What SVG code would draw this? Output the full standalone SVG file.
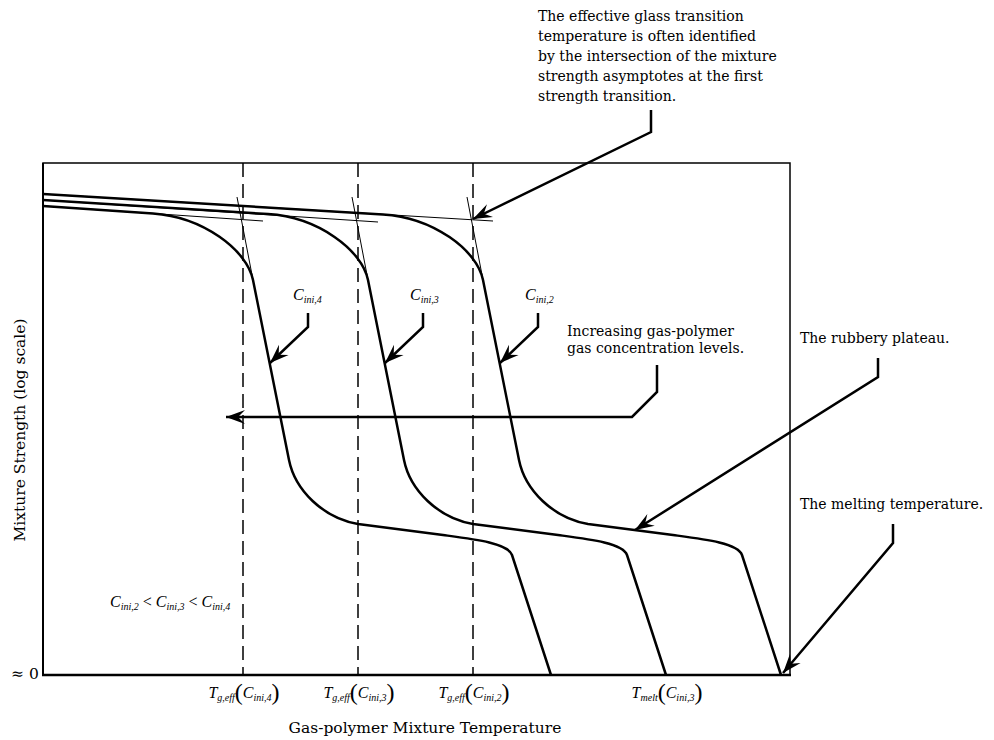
<svg xmlns="http://www.w3.org/2000/svg" width="994" height="740" viewBox="0 0 994 740">
<style>
.t{font-family:"DejaVu Serif","Liberation Serif",serif;font-size:14px;fill:#000}
.ax{font-family:"DejaVu Serif","Liberation Serif",serif;font-size:15.5px;fill:#000}
.m{font-family:"Liberation Serif","DejaVu Serif",serif;font-style:italic;font-size:16px;fill:#000}
.s{font-size:10px}
.p{font-style:normal;font-size:24px}
.curve{fill:none;stroke:#000;stroke-width:2.5;stroke-linejoin:round}
.thin{fill:none;stroke:#000;stroke-width:1}
.dash{fill:none;stroke:#000;stroke-width:1.5;stroke-dasharray:14 7}
.conn{fill:none;stroke:#000;stroke-width:2.5;marker-end:url(#ah)}
</style>
<defs>
<marker id="ah" markerUnits="userSpaceOnUse" markerWidth="20" markerHeight="16" viewBox="0 0 20 16" refX="19" refY="8" orient="auto">
<path d="M19,8 L0,1 L7,8 L0,15 Z" fill="#000"/>
</marker>
</defs>
<rect width="994" height="740" fill="#fff"/>
<g id="frame">
<rect x="43" y="163" width="747" height="512" fill="none" stroke="#000" stroke-width="1.5"/>
<line x1="43" y1="163" x2="43" y2="676" stroke="#000" stroke-width="2"/>
<line x1="42" y1="675" x2="791" y2="675" stroke="#000" stroke-width="2.5"/>
</g>
<g id="dashed">
<line class="dash" x1="243" y1="163" x2="243" y2="675"/>
<line class="dash" x1="358" y1="163" x2="358" y2="675"/>
<line class="dash" x1="473" y1="163" x2="473" y2="675"/>
</g>
<g id="asymptotes">
<line class="thin" x1="43" y1="206" x2="263" y2="221"/>
<line class="thin" x1="237" y1="197" x2="253" y2="280"/>
<line class="thin" x1="43" y1="200" x2="378" y2="222"/>
<line class="thin" x1="352" y1="197" x2="368" y2="280"/>
<line class="thin" x1="43" y1="194" x2="493" y2="221"/>
<line class="thin" x1="467" y1="197" x2="483" y2="280"/>
</g>
<g id="curve-cini4">
<path class="curve" d="M43,206 L153,213.5 C203,217 247,250 253,280 L289,460 C295,490 323,518 358,524 L443,535 C473,539 508,543 512,555 L551,675"/>
</g>
<g id="curve-cini3">
<path class="curve" d="M43,200 L268,214.1 C318,217.2 362,250 368,280 L404,460 C410,490 438,518 473,524 L558,535 C588,539 623,543 627,555 L666,675"/>
</g>
<g id="curve-cini2">
<path class="curve" d="M43,194 L383,214.4 C433,217.4 477,250 483,280 L519,460 C525,490 553,518 588,524 L673,535 C703,539 738,543 742,555 L781,675"/>
</g>
<g id="connectors">
<polyline class="conn" points="651,110 651,132 473,219"/>
<polyline class="conn" points="308,313 308,327 270,363"/>
<polyline class="conn" points="423,313 423,327 385,363"/>
<polyline class="conn" points="538,313 538,327 500,363"/>
<polyline class="conn" points="657,365 657,392 632,417 226,417"/>
<polyline class="conn" points="878,358 878,377 635,530"/>
<polyline class="conn" points="893,524 893,543 783,673"/>
</g>
<g id="note-tg">
<text class="t" x="538" y="21">The effective glass transition</text>
<text class="t" x="538" y="41">temperature is often identified</text>
<text class="t" x="538" y="61">by the intersection of the mixture</text>
<text class="t" x="538" y="81">strength asymptotes at the first</text>
<text class="t" x="538" y="101">strength transition.</text>
</g>
<g id="note-increasing">
<text class="t" x="567" y="336">Increasing gas-polymer</text>
<text class="t" x="567" y="353">gas concentration levels.</text>
</g>
<g id="note-rubbery"><text class="t" x="800" y="343">The rubbery plateau.</text></g>
<g id="note-melting"><text class="t" x="800" y="509">The melting temperature.</text></g>
<g id="label-c4"><text class="m" x="293" y="300">C<tspan class="s" dy="3">ini,4</tspan></text></g>
<g id="label-c3"><text class="m" x="410" y="300">C<tspan class="s" dy="3">ini,3</tspan></text></g>
<g id="label-c2"><text class="m" x="525" y="300">C<tspan class="s" dy="3">ini,2</tspan></text></g>
<g id="label-order"><text class="m" x="110" y="607">C<tspan class="s" dy="3">ini,2</tspan><tspan dy="-3" font-style="normal"> &lt; </tspan>C<tspan class="s" dy="3">ini,3</tspan><tspan dy="-3" font-style="normal"> &lt; </tspan>C<tspan class="s" dy="3">ini,4</tspan></text></g>
<g id="tick-tg4"><text class="m" x="244" y="698" text-anchor="middle">T<tspan class="s" dy="3">g,eff</tspan><tspan class="p" dy="-1">(</tspan><tspan dy="-2">C</tspan><tspan class="s" dy="3">ini,4</tspan><tspan class="p" dy="-1">)</tspan></text></g>
<g id="tick-tg3"><text class="m" x="359" y="698" text-anchor="middle">T<tspan class="s" dy="3">g,eff</tspan><tspan class="p" dy="-1">(</tspan><tspan dy="-2">C</tspan><tspan class="s" dy="3">ini,3</tspan><tspan class="p" dy="-1">)</tspan></text></g>
<g id="tick-tg2"><text class="m" x="474" y="698" text-anchor="middle">T<tspan class="s" dy="3">g,eff</tspan><tspan class="p" dy="-1">(</tspan><tspan dy="-2">C</tspan><tspan class="s" dy="3">ini,2</tspan><tspan class="p" dy="-1">)</tspan></text></g>
<g id="tick-tmelt"><text class="m" x="667" y="698" text-anchor="middle">T<tspan class="s" dy="3">melt</tspan><tspan class="p" dy="-1">(</tspan><tspan dy="-2">C</tspan><tspan class="s" dy="3">ini,3</tspan><tspan class="p" dy="-1">)</tspan></text></g>
<g id="y-zero"><text class="ax" x="11" y="679" font-size="14">≈ 0</text></g>
<g id="x-title"><text class="ax" x="425" y="733" text-anchor="middle">Gas-polymer Mixture Temperature</text></g>
<g id="y-title"><text class="ax" transform="translate(25,430) rotate(-90)" text-anchor="middle">Mixture Strength (log scale)</text></g>
</svg>
